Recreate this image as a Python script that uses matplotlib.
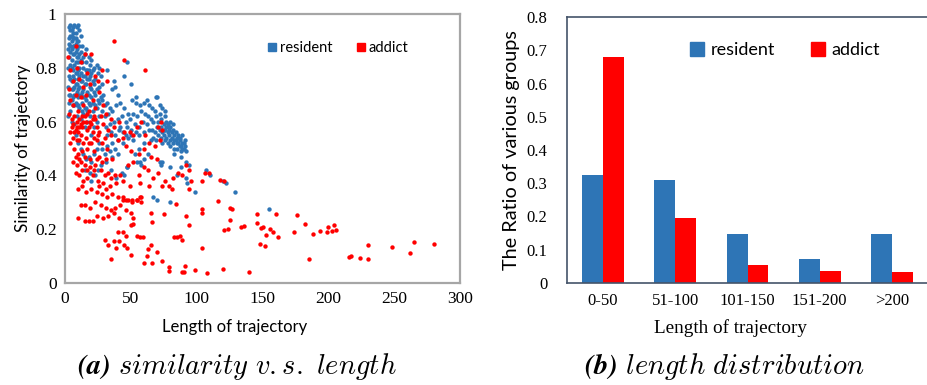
import matplotlib
matplotlib.use("Agg")
import matplotlib.pyplot as plt
from matplotlib.lines import Line2D
import numpy as np

plt.rcParams['mathtext.fontset'] = 'cm'

# ---------------- data: (a) scatter ----------------
resident_pts = [
 (3,0.95),(4,0.96),(5,0.94),(6,0.95),(7,0.96),(4,0.92),(5,0.90),(3,0.89),(6,0.91),(8,0.93),(9,0.95),(10,0.96),(11,0.94),
 (2,0.87),(4,0.86),(6,0.88),(8,0.89),(3,0.84),(5,0.83),(7,0.85),(9,0.87),(10,0.90),(12,0.92),(2,0.80),(4,0.81),(6,0.79),
 (8,0.82),(10,0.84),(12,0.86),(13,0.88),(3,0.77),(5,0.75),(7,0.76),(9,0.78),(11,0.80),(13,0.82),(15,0.85),(16,0.87),
 (2,0.73),(4,0.70),(6,0.72),(8,0.74),(10,0.76),(12,0.78),(14,0.80),(16,0.82),(18,0.84),(3,0.67),(5,0.68),(7,0.70),
 (9,0.71),(11,0.73),(13,0.75),(15,0.77),(17,0.79),(19,0.81),(20,0.83),(2,0.62),(4,0.64),(6,0.66),(8,0.67),(10,0.69),
 (12,0.70),(14,0.72),(16,0.74),(18,0.76),(20,0.78),(22,0.80),(24,0.81),(26,0.80),(5,0.60),(7,0.59),(9,0.62),
 (11,0.65),(13,0.67),(15,0.69),(17,0.71),(19,0.73),(21,0.75),(23,0.76),(25,0.78),(27,0.77),(12,0.61),(14,0.63),
 (16,0.65),(18,0.67),(20,0.69),(22,0.71),(24,0.72),(26,0.73),(28,0.74),(15,0.58),(17,0.60),(19,0.62),(21,0.64),
 (23,0.66),(25,0.68),(27,0.69),(29,0.70),(20,0.55),(22,0.58),(24,0.60),(26,0.62),(28,0.64),(30,0.66),(32,0.67),(34,0.65),
 (4,0.94),(5,0.92),(6,0.93),(7,0.91),(8,0.91),(9,0.90),(3,0.91),(4,0.88),(5,0.87),(7,0.88),(8,0.86),(9,0.84),(10,0.82),
 (11,0.85),(11,0.88),(12,0.83),(14,0.84),(6,0.85),(5,0.80),(7,0.81),(9,0.80),(10,0.79),(11,0.77),(12,0.75),(6,0.77),
 (8,0.78),(4,0.76),(5,0.72),(7,0.73),(9,0.74),(10,0.72),(11,0.70),(13,0.71),(14,0.77),(15,0.74),(16,0.79),(17,0.76),
 (18,0.79),(19,0.77),(21,0.79),(3,0.70),(6,0.69),(8,0.70),(7,0.66),(9,0.66),(10,0.66),(13,0.64),(14,0.69),(16,0.68),
 (18,0.70),(20,0.72),(22,0.74),(23,0.70),(21,0.67),(19,0.66),(17,0.64),(15,0.65),(24,0.65),(26,0.67),(28,0.68),
 (30,0.62),(33,0.63),(36,0.64),(39,0.66),(42,0.67),(45,0.65),(48,0.63),(51,0.68),(54,0.67),(57,0.66),(60,0.67),(62,0.68),
 (64,0.66),(31,0.58),(34,0.59),(37,0.60),(40,0.61),(43,0.62),(46,0.60),(49,0.61),(52,0.63),(55,0.62),(58,0.64),(61,0.63),
 (63,0.62),(32,0.55),(35,0.56),(38,0.55),(41,0.57),(44,0.56),(47,0.58),(50,0.57),(53,0.59),(56,0.58),(59,0.60),(62,0.59),
 (36,0.52),(40,0.53),(44,0.52),(48,0.54),(52,0.53),(56,0.55),(60,0.56),(64,0.57),(42,0.58),(46,0.55),(50,0.55),(54,0.56),
 (66,0.65),(68,0.64),(70,0.69),(72,0.63),(74,0.65),(76,0.62),(65,0.61),(67,0.60),(69,0.62),(71,0.60),(73,0.61),(75,0.59),
 (77,0.60),(79,0.58),(66,0.57),(68,0.56),(70,0.58),(72,0.57),(74,0.56),(76,0.57),(78,0.56),(80,0.58),(82,0.57),(84,0.56),
 (86,0.55),(65,0.53),(67,0.54),(69,0.53),(71,0.55),(73,0.54),(75,0.55),(77,0.54),(79,0.55),(81,0.54),(83,0.55),(85,0.54),
 (87,0.53),(89,0.52),(74,0.52),(76,0.53),(78,0.52),(80,0.53),(82,0.52),(84,0.53),(86,0.52),(88,0.51),(90,0.52),(91,0.51),
 (85,0.50),(88,0.49),(90,0.50),(92,0.49),(80,0.51),(83,0.50),(87,0.54),(89,0.55),(78,0.59),(80,0.60),(82,0.59),(76,0.64),
 (72,0.66),(79,0.57),(81,0.56),(83,0.53),(85,0.52),(87,0.51),(89,0.50),(91,0.53),(77,0.58),(75,0.57),(73,0.58),
 (8,0.55),(10,0.52),(12,0.50),(14,0.48),(16,0.46),(18,0.47),(20,0.45),(22,0.48),(24,0.50),(26,0.52),(28,0.50),
 (30,0.48),(32,0.51),(34,0.49),(36,0.47),(38,0.50),(40,0.48),(15,0.42),(19,0.41),(23,0.40),(27,0.44),(31,0.45),(35,0.42),
 (39,0.39),(43,0.41),(47,0.43),(45,0.40),(20,0.38),(25,0.42),(55,0.45),(58,0.44),(60,0.46),(63,0.48),(56,0.50),(60,0.52),
 (53,0.48),(155,0.275),(129,0.34),(122,0.37),(120,0.38),(110,0.40),(107,0.42),(99,0.34),(94,0.44),(92,0.45),(93,0.37),
 (92,0.39),(88,0.43),(85,0.40),(80,0.30),(70,0.31),(67,0.32),(72,0.45),(74,0.45),(73,0.44),(83,0.48),(80,0.43),(88,0.47),
 (57,0.45),(47,0.43),(32,0.79),(45,0.77),(50,0.74),(47,0.82),(37,0.75),(36,0.72),(69,0.69),(54,0.69),(40,0.70),(38,0.73),
]
addict_pts = [
 (2,0.84),(8,0.88),(15,0.85),(20,0.85),(12,0.82),(9,0.80),(4,0.79),(17,0.78),(23,0.77),(11,0.76),(6,0.75),(3,0.72),
 (14,0.73),(19,0.74),(25,0.75),(8,0.70),(12,0.69),(4,0.68),(16,0.70),(21,0.68),(26,0.71),(29,0.66),(6,0.66),(10,0.64),
 (14,0.66),(18,0.64),(23,0.65),(27,0.62),(31,0.63),(35,0.61),(3,0.63),(7,0.62),(11,0.61),(15,0.62),(19,0.60),(23,0.61),
 (29,0.59),(33,0.57),(37,0.58),(41,0.60),(45,0.56),(5,0.58),(8,0.57),(10,0.56),(13,0.58),(17,0.57),(21,0.56),(25,0.55),
 (30,0.54),(35,0.55),(40,0.53),(44,0.54),(49,0.56),(52,0.55),(4,0.56),(6,0.54),(9,0.53),(12,0.55),(16,0.54),(20,0.52),
 (24,0.53),(28,0.52),(32,0.50),(4,0.52),(7,0.50),(10,0.48),(13,0.49),(17,0.50),(22,0.49),(26,0.47),(31,0.46),(36,0.46),
 (6,0.45),(9,0.44),(12,0.45),(15,0.44),(19,0.43),(23,0.44),(27,0.42),(33,0.41),(38,0.40),(42,0.40),(8,0.41),(11,0.40),
 (14,0.38),(17,0.39),(21,0.40),(25,0.38),(29,0.37),(34,0.36),(39,0.37),(44,0.38),(10,0.35),(13,0.36),(16,0.34),(20,0.35),
 (24,0.34),(28,0.33),(32,0.32),(36,0.33),(40,0.32),(44,0.31),(48,0.31),(51,0.30),(55,0.31),(58,0.32),(12,0.29),(15,0.29),
 (19,0.28),(23,0.30),(27,0.29),(31,0.28),(35,0.27),(38,0.28),(42,0.29),(46,0.27),(50,0.26),(10,0.24),(15,0.23),(18,0.23),
 (21,0.23),(24,0.25),(29,0.24),(33,0.25),(37,0.26),(41,0.24),
 (5,0.61),(6,0.59),(7,0.56),(9,0.58),(11,0.58),(12,0.59),(14,0.60),(16,0.60),(18,0.58),(20,0.59),(22,0.62),(24,0.58),
 (13,0.62),(17,0.63),(21,0.61),(9,0.60),(11,0.53),(14,0.52),(18,0.52),(22,0.54),(26,0.56),(8,0.47),(11,0.46),(15,0.47),
 (19,0.46),(24,0.46),(28,0.45),(13,0.42),(17,0.42),(22,0.42),(30,0.40),(35,0.39),(26,0.36),(31,0.35),
 (46,0.51),(50,0.49),(56,0.48),(60,0.50),(64,0.52),(68,0.51),(72,0.53),(74,0.57),(71,0.58),(73,0.60),(61,0.55),(55,0.58),
 (58,0.60),(65,0.47),(70,0.46),(48,0.44),(52,0.45),(60,0.43),(63,0.42),(56,0.40),(67,0.39),(71,0.41),(76,0.38),(79,0.36),
 (82,0.39),(86,0.41),(89,0.40),(92,0.44),(94,0.42),(81,0.35),(74,0.36),(64,0.36),(57,0.37),(49,0.36),(94,0.35),(96,0.38),
 (104,0.38),(106,0.41),
 (37,0.90),(45,0.83),(61,0.79),(28,0.79),(32,0.75),
 (280,0.146),(265,0.154),(262,0.113),(248,0.133),(230,0.14),(230,0.088),(224,0.093),(217,0.10),(216,0.097),(206,0.197),
 (204,0.215),(203,0.195),(200,0.208),(199,0.19),(194,0.192),(188,0.184),(182,0.221),(185,0.088),(176,0.252),(174,0.191),
 (162,0.171),(160,0.257),(158,0.191),(156,0.20),(153,0.179),(152,0.138),(150,0.21),(149,0.205),(146,0.223),(146,0.256),
 (148,0.144),(140,0.041),(136,0.213),(134,0.21),(127,0.274),(125,0.278),(125,0.236),(124,0.20),(121,0.196),(120,0.052),
 (116,0.304),(118,0.382),(121,0.38),(108,0.037),(104,0.274),(104,0.262),(104,0.129),(109,0.41),(99,0.05),(91,0.065),
 (89,0.04),(90,0.04),(94,0.217),(92,0.25),(89,0.16),(87,0.176),(85,0.17),(83,0.17),(84,0.295),(79,0.06),(79,0.045),
 (74,0.08),(75,0.256),(70,0.114),(66,0.074),(65,0.14),(63,0.125),(62,0.10),(60,0.075),(66,0.227),(65,0.26),(57,0.17),
 (59,0.17),(55,0.175),(50,0.105),(52,0.22),(50,0.215),(52,0.24),(46,0.175),(47,0.13),(45,0.14),(44,0.19),(41,0.155),
 (40,0.19),(39,0.13),(37,0.155),(35,0.09),(33,0.14),(30,0.16),(58,0.30),(57,0.32),(55,0.31),(51,0.31),(46,0.31),(44,0.32),
]

# ---------------- data: (b) bars ----------------
categories = ['0-50', '51-100', '101-150', '151-200', '>200']
resident_ratio = [0.325, 0.31, 0.148, 0.072, 0.146]
addict_ratio = [0.68, 0.195, 0.055, 0.036, 0.033]

BLUE = '#2E75B6'
RED = '#FF0000'
serif = ['Liberation Serif', 'DejaVu Serif']
sans = ['Lato', 'DejaVu Sans']

fig = plt.figure(figsize=(9.27, 3.85), dpi=100)
W, H = 927, 385

def ax_rect(l, t, r, b):
    return [l / W, 1 - b / H, (r - l) / W, (b - t) / H]

# ---------- (a) ----------
ax1 = fig.add_axes(ax_rect(65, 14, 460, 283))
rx, ry = zip(*resident_pts)
ax_, ay = zip(*addict_pts)
ax1.scatter(rx, ry, s=10, c=BLUE, linewidths=0, zorder=2)
ax1.scatter(ax_, ay, s=10, c=RED, linewidths=0, zorder=3)
ax1.set_xlim(0, 300)
ax1.set_ylim(0, 1)
ax1.set_xticks([0, 50, 100, 150, 200, 250, 300])
ax1.set_yticks([0, 0.2, 0.4, 0.6, 0.8, 1])
ax1.set_yticklabels(['0', '0.2', '0.4', '0.6', '0.8', '1'])
ax1.tick_params(length=0, labelsize=12.5, pad=6)
for lab in ax1.get_xticklabels() + ax1.get_yticklabels():
    lab.set_fontfamily(serif)
for sp in ax1.spines.values():
    sp.set_color('#A6A6A6')
    sp.set_linewidth(1.6)
ax1.set_ylabel('Similarity of trajectory', fontsize=12.3, family=sans, labelpad=3)
h1 = [Line2D([], [], marker='s', ls='', color=BLUE, markersize=6),
      Line2D([], [], marker='s', ls='', color=RED, markersize=6)]
ax1.legend(h1, ['resident', 'addict'], ncol=2, frameon=False, loc='center',
           bbox_to_anchor=(0.69, 0.874), prop={'family': sans, 'size': 10.5},
           handletextpad=0.1, columnspacing=1.6, handlelength=0.8)
fig.text(235 / W, 1 - 327 / H, 'Length of trajectory', ha='center', va='center',
         fontsize=12, family=sans)

# ---------- (b) ----------
ax2 = fig.add_axes(ax_rect(567, 17, 928, 283))
x = np.arange(len(categories))
bw = 0.29
ax2.bar(x - bw / 2, resident_ratio, bw, color=BLUE, zorder=2)
ax2.bar(x + bw / 2, addict_ratio, bw, color=RED, zorder=2)
ax2.set_xlim(-0.5, len(categories) - 0.5)
ax2.set_ylim(0, 0.8)
ax2.set_yticks(np.arange(0, 0.81, 0.1))
ax2.set_yticklabels(['0', '0.1', '0.2', '0.3', '0.4', '0.5', '0.6', '0.7', '0.8'])
ax2.set_xticks(x)
ax2.set_xticklabels(categories)
ax2.tick_params(length=0, labelsize=12)
ax2.tick_params(axis='x', pad=7)
ax2.tick_params(axis='y', pad=14)
for lab in ax2.get_xticklabels() + ax2.get_yticklabels():
    lab.set_fontfamily(serif)
for sp in ax2.spines.values():
    sp.set_color('#44546A')
    sp.set_linewidth(1.2)
ax2.set_ylabel('The Ratio of various groups', fontsize=14.3, family=sans, labelpad=5)
h2 = [Line2D([], [], marker='s', ls='', color=BLUE, markersize=10),
      Line2D([], [], marker='s', ls='', color=RED, markersize=10)]
ax2.legend(h2, ['resident', 'addict'], ncol=2, frameon=False, loc='center',
           bbox_to_anchor=(0.605, 0.876), prop={'family': sans, 'size': 13},
           handletextpad=0.4, columnspacing=2.0, handlelength=0.7)
fig.text(731 / W, 1 - 328 / H, 'Length of trajectory', ha='center', va='center',
         fontsize=13.8, family=serif)

# ---------- captions ----------
fig.text(237 / W, 1 - 366 / H, r'$\mathbfit{(a)}\ \mathit{similarity\ v.s.\ length}$',
         ha='center', va='center', fontsize=20.5)
fig.text(724 / W, 1 - 366 / H, r'$\mathbfit{(b)}\ \mathit{length\ distribution}$',
         ha='center', va='center', fontsize=20.5)

fig.savefig('out.png', dpi=100)
